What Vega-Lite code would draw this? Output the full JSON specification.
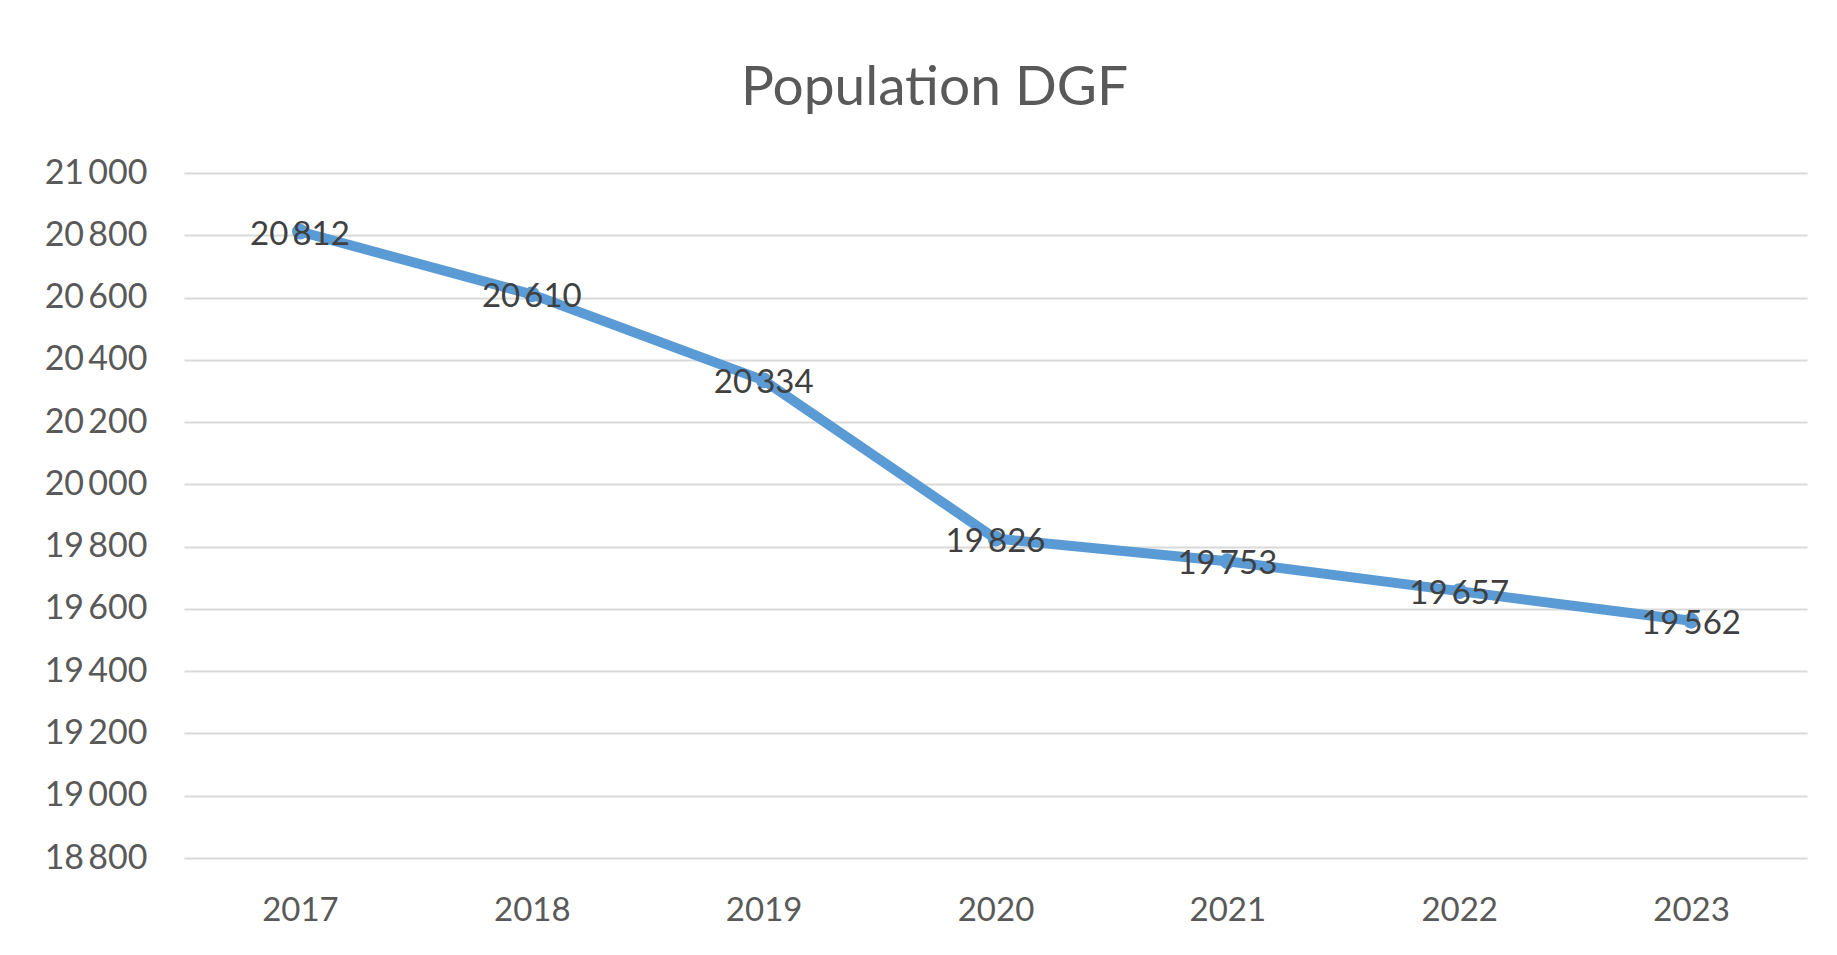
{
  "$schema": "https://vega.github.io/schema/vega-lite/v6.json",
  "width": 1623,
  "height": 685,
  "autosize": {"type": "none"},
  "padding": {"left": 184, "top": 173, "right": 30, "bottom": 97},
  "background": "white",
  "config": {
    "view": {"stroke": null},
    "font": "Lato",
    "locale": {"number": {"decimal": ",", "thousands": "\u2009", "grouping": [3], "currency": ["", " €"]}}
  },
  "title": {
    "text": "Population DGF",
    "fontSize": 55,
    "font": "Lato",
    "fontWeight": "normal",
    "color": "#595959",
    "anchor": "middle",
    "frame": "group",
    "dx": -61,
    "baseline": "alphabetic",
    "offset": -4
  },
  "data": {
    "values": [
      {"year": "2017", "population": 20812},
      {"year": "2018", "population": 20610},
      {"year": "2019", "population": 20334},
      {"year": "2020", "population": 19826},
      {"year": "2021", "population": 19753},
      {"year": "2022", "population": 19657},
      {"year": "2023", "population": 19562}
    ]
  },
  "encoding": {
    "x": {
      "field": "year",
      "type": "ordinal",
      "scale": {"type": "point", "padding": 0.5},
      "axis": {
        "title": null,
        "labelAngle": 0,
        "labelFontSize": 33,
        "labelColor": "#595959",
        "labelPadding": 36,
        "ticks": false,
        "domain": false,
        "grid": false
      }
    },
    "y": {
      "field": "population",
      "type": "quantitative",
      "scale": {"domain": [18800, 21000], "nice": false, "zero": false},
      "axis": {
        "title": null,
        "values": [18800, 19000, 19200, 19400, 19600, 19800, 20000, 20200, 20400, 20600, 20800, 21000],
        "format": ",.0f",
        "labelFontSize": 34,
        "labelColor": "#595959",
        "labelPadding": 37,
        "ticks": false,
        "domain": false,
        "grid": true,
        "gridColor": "#d9d9d9",
        "gridWidth": 2
      }
    }
  },
  "layer": [
    {
      "mark": {"type": "line", "color": "#5B9BD5", "strokeWidth": 10, "strokeCap": "round", "strokeJoin": "round"}
    },
    {
      "mark": {"type": "point", "shape": "circle", "filled": true, "color": "#5B9BD5", "opacity": 1, "size": 250}
    },
    {
      "mark": {"type": "text", "fontSize": 33, "color": "#404040", "baseline": "middle", "align": "center", "dy": 3},
      "encoding": {
        "text": {"field": "population", "type": "quantitative", "format": ",.0f"}
      }
    }
  ]
}
